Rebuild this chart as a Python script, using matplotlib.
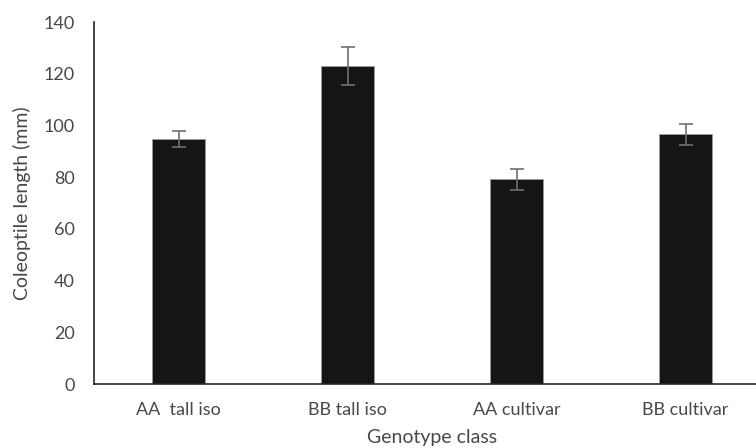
import matplotlib.pyplot as plt

genotypes = ['AA  tall iso', 'BB tall iso', 'AA cultivar', 'BB cultivar']
length_mm = [94.6, 122.9, 79.1, 96.5]
length_err = [3.1, 7.3, 3.9, 4.2]

plt.rcParams['font.family'] = ['Lato', 'DejaVu Sans']
text_col = '#484848'

fig = plt.figure(figsize=(7.56, 4.48), dpi=100)
ax = fig.add_axes([94 / 756, 64 / 448, 676 / 756, 362 / 448])

x = range(len(genotypes))
ax.bar(x, length_mm, width=0.31, color='#151515', edgecolor='#9a9a9a', linewidth=0.6,
       yerr=length_err, error_kw=dict(ecolor='#707070', elinewidth=1.2, capsize=5, capthick=1.2),
       zorder=2)

ax.set_xlim(-0.5, 3.5)
ax.set_ylim(0, 140)
ax.set_yticks(range(0, 141, 20))
ax.set_xticks(list(x))
ax.set_xticklabels(genotypes)
ax.tick_params(axis='both', length=0, labelsize=13, colors=text_col, labelcolor=text_col)
ax.tick_params(axis='x', pad=13)
ax.tick_params(axis='y', pad=14)

for side in ('top', 'right'):
    ax.spines[side].set_visible(False)
for side in ('left', 'bottom'):
    ax.spines[side].set_color('#262626')
    ax.spines[side].set_linewidth(1.2)

ax.set_xlabel('Genotype class', fontsize=14, color=text_col, labelpad=8)
ax.set_ylabel('Coleoptile length (mm)', fontsize=14, color=text_col, labelpad=9)

fig.savefig('out.png', dpi=100)
